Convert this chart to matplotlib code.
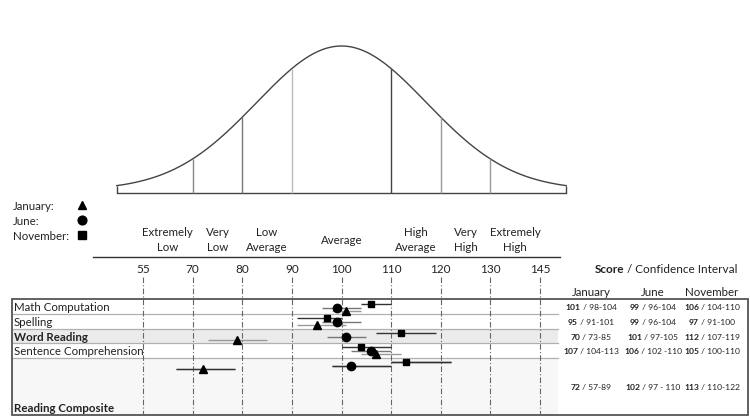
import numpy as np
import matplotlib.pyplot as plt
from matplotlib.offsetbox import TextArea, HPacker, AnnotationBbox

plt.rcParams['font.family'] = ['Lato', 'DejaVu Sans']

# score axis (ticks are drawn evenly spaced)
tick_vals = [55, 70, 80, 90, 100, 110, 120, 130, 145]
band_edges = [55, 70, 80, 90, 110, 120, 130, 145]
bands = ['Extremely\nLow', 'Very\nLow', 'Low\nAverage', 'Average',
         'High\nAverage', 'Very\nHigh', 'Extremely\nHigh']
bell_cuts = [70, 80, 90, 110, 120, 130]

subtests = ['Math Computation', 'Spelling', 'Word Reading',
            'Sentence Comprehension', 'Reading Composite']
bold_rows = [False, False, True, False, True]

# plotted marker and confidence line for each test date
jan_score = [101, 95, 79, 107, 72]
jan_lo = [98, 91, 73, 104, 65]
jan_hi = [104, 101, 85, 112, 78.5]
jun_score = [99, 99, 101, 106, 102]
jun_lo = [96, 96, 97, 102, 98]
jun_hi = [104, 104, 105, 110, 110]
nov_score = [106, 97, 112, 104, 113]
nov_lo = [104, 91, 107, 100, 110]
nov_hi = [110, 100, 119, 110, 122]

# score table text
months = ['January', 'June', 'November']
jan_txt = [('101', '98-104'), ('95', '91-101'), ('70', '73-85'),
           ('107', '104-113'), ('72', '57-89')]
jun_txt = [('99', '96-104'), ('99', '96-104'), ('101', '97-105'),
           ('106', '102 -110'), ('102', '97 - 110')]
nov_txt = [('106', '104-110'), ('97', '91-100'), ('112', '107-119'),
           ('105', '100-110'), ('113', '110-122')]

W, H = 750, 419
fig = plt.figure(figsize=(W / 100, H / 100), dpi=100)
fig.patch.set_facecolor('white')

# background axes in pixel units for the table frame and text
bg = fig.add_axes([0, 0, 1, 1])
bg.set_xlim(0, W)
bg.set_ylim(H, 0)
bg.axis('off')

# piecewise scale: each tick interval gets equal width
tv = np.array(tick_vals, float)
ti = np.arange(len(tv), dtype=float)


def fwd(v):
    v = np.asarray(v, float)
    out = np.interp(v, tv, ti)
    out = np.where(v < tv[0], (v - tv[0]) / 15.0, out)
    out = np.where(v > tv[-1], ti[-1] + (v - tv[-1]) / 15.0, out)
    return out


def inv(u):
    u = np.asarray(u, float)
    out = np.interp(u, ti, tv)
    out = np.where(u < 0, tv[0] + u * 15.0, out)
    out = np.where(u > ti[-1], tv[-1] + (u - ti[-1]) * 15.0, out)
    return out


x55, step = 143.0, 49.625
pl, pr = 12, 580
ax = fig.add_axes([pl / W, 0, (pr - pl) / W, 1])
ax.set_xscale('function', functions=(fwd, inv))
ax.set_xlim(float(inv((pl - x55) / step)), float(inv((pr - x55) / step)))
ax.set_ylim(H, 0)
ax.axis('off')
ax.patch.set_alpha(0)

# rows of the table
row_edges = [299, 313.5, 328.5, 343, 357.5, 415]
bg.add_patch(plt.Rectangle((12, row_edges[2]), 546, row_edges[3] - row_edges[2],
                           facecolor='#ebebeb', edgecolor='none', zorder=0))
bg.add_patch(plt.Rectangle((12, row_edges[4]), 546, row_edges[5] - row_edges[4],
                           facecolor='#f7f7f7', edgecolor='none', zorder=0))
for y in row_edges[1:-1]:
    bg.plot([12, 558], [y, y], color='#b0b0b0', lw=0.9, zorder=1)
bg.add_patch(plt.Rectangle((12, 299), 736, 116, facecolor='none',
                           edgecolor='#555555', lw=1.3, zorder=5))

# bell curve
c = float(fwd(100))
u = np.linspace(c - 4.53, c + 4.53, 400)
sig = 85 / step


def bell_y(uu):
    return 193 - (3 + 144 * np.exp(-(uu - c) ** 2 / (2 * sig ** 2)))


ax.plot(inv(u), bell_y(u), color='#444444', lw=1.0)
ax.plot(inv([u[0], u[-1]]), [193, 193], color='#444444', lw=1.0)
ax.vlines(inv([u[0], u[-1]]), bell_y(np.array([u[0], u[-1]])), 193,
          color='#444444', lw=1.0)
cut_colors = ['#888888', '#777777', '#bbbbbb', '#444444', '#999999', '#999999']
for v, col in zip(bell_cuts, cut_colors):
    ax.vlines(v, bell_y(fwd(v)), 193, color=col, lw=1.0)

# score axis
bg.plot([93, 560], [257, 257], color='#333333', lw=1.0)
for v in tick_vals:
    ax.text(v, 269, str(v), ha='center', va='center', fontsize=8.5, color='#222222')
ax.vlines(tick_vals, 277, 415, color='#666666', lw=0.8,
          linestyles=[(0, (5, 2, 1, 2))])
for i, lab in enumerate(bands):
    mid = float(inv((fwd(band_edges[i]) + fwd(band_edges[i + 1])) / 2))
    ax.text(mid, 240, lab, ha='center', va='center', fontsize=8.3,
            color='#222222', linespacing=1.35)

# legend
leg_y = [206, 221, 236]
leg_mk = ['^', 'o', 's']
for m, y, mk in zip(months, leg_y, leg_mk):
    bg.text(13, y, m + ':', ha='left', va='center', fontsize=8.3, color='#222222')
    bg.plot(82, y - 1, marker=mk, color='black', ms=6.3 if mk != 's' else 5.8, ls='none')

# data marks
row_top = [299, 313.5, 328.5, 342.5, 357.5]
series = [
    (jan_score, jan_lo, jan_hi, '^', 11.5, '#9a9a9a', 5.6),
    (jun_score, jun_lo, jun_hi, 'o', 8.5, '#777777', 6.0),
    (nov_score, nov_lo, nov_hi, 's', 4.5, '#333333', 5.0),
]
for sc, lo, hi, mk, off, lc, ms in series:
    ys = np.array(row_top) + off
    ax.hlines(ys, lo, hi, color=lc, lw=1.0, zorder=3)
    ax.plot(sc, ys, marker=mk, color='black', ms=ms, ls='none', zorder=4)
# composite confidence lines are all dark
for sc, lo, hi, mk, off, lc, ms in series:
    ax.hlines(row_top[4] + off, lo[4], hi[4], color='#333333', lw=1.0, zorder=3)

# subtest labels
lab_y = [307, 322, 337, 351, 408]
for name, y, b in zip(subtests, lab_y, bold_rows):
    bg.text(14, y, name, ha='left', va='center', fontsize=8.3,
            fontweight='bold' if b else 'normal', color='#222222')


def mixed(x, y, bold, rest, size):
    box = HPacker(children=[
        TextArea(bold, textprops=dict(fontsize=size, fontweight='bold', color='#222222')),
        TextArea(' / ' + rest, textprops=dict(fontsize=size, color='#222222'))],
        align='baseline', pad=0, sep=0)
    bg.add_artist(AnnotationBbox(box, (x, y), frameon=False, box_alignment=(0.5, 0.5),
                                 pad=0, xycoords='data'))


# score table
mixed(666, 269, 'Score', 'Confidence Interval', 8.5)
col_x = [591, 653, 712]
for m, x in zip(months, col_x):
    bg.text(x, 292, m, ha='center', va='center', fontsize=8.3, color='#222222')
val_y = [307, 322, 337, 351, 387]
for x, txt in zip(col_x, [jan_txt, jun_txt, nov_txt]):
    for y, (b, r) in zip(val_y, txt):
        mixed(x, y, b, r, 6.1)

fig.savefig('out.png', dpi=100)
